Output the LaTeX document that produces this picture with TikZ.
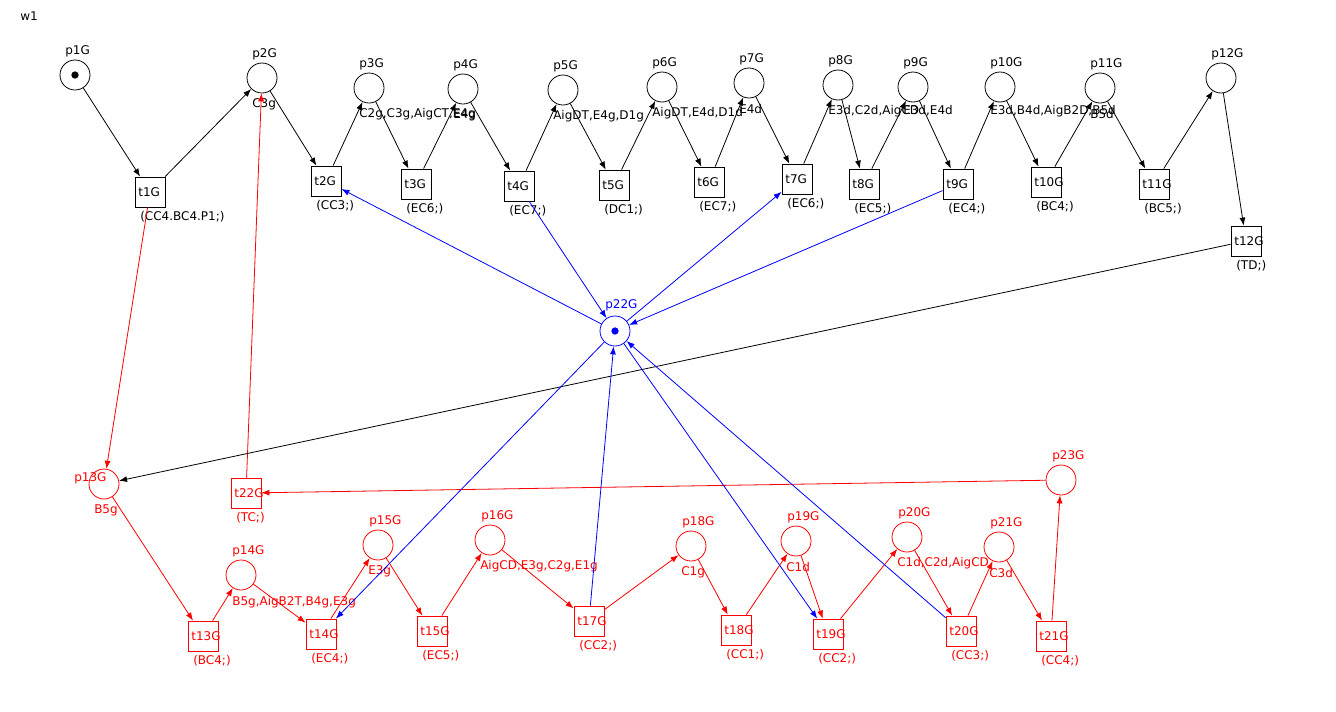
\documentclass[tikz,border=0pt]{standalone}
\usepackage{fontspec}
\setmainfont{DejaVu Sans}
\usetikzlibrary{arrows.meta,calc}
\begin{document}
\begin{tikzpicture}[x=0.75pt,y=-0.75pt,
  every node/.style={font=\fontsize{9}{10}\selectfont},
  place/.style={circle,draw,minimum size=22.5pt,inner sep=0pt,line width=0.6pt},
  trans/.style={rectangle,draw,minimum size=22.5pt,inner sep=0pt,line width=0.6pt},
  tname/.style={anchor=west,inner sep=2.6pt},
  lbl/.style={anchor=west,inner sep=0pt},
  token/.style={circle,fill,inner sep=0pt,minimum size=5.5pt},
  arc/.style={-{Latex[length=6pt,width=4.5pt]},line width=0.6pt}]
\useasboundingbox (0,0) rectangle (1336,711);
\node[lbl] (w1) at (20,16) {w1};
% ---------------- top row (black) ----------------
\node[place] (p1G) at (75,75) {};
\node[token] (p1Gt) at (p1G) {};
\node[place] (p2G) at (262,78) {};
\node[place] (p3G) at (369,88) {};
\node[place] (p4G) at (463,89) {};
\node[place] (p5G) at (563,90) {};
\node[place] (p6G) at (662,87) {};
\node[place] (p7G) at (749,83) {};
\node[place] (p8G) at (838,85) {};
\node[place] (p9G) at (913,87) {};
\node[place] (p10G) at (1000,87) {};
\node[place] (p11G) at (1100,88) {};
\node[place] (p12G) at (1221,78) {};
\foreach \p in {p1G,p2G,p3G,p4G,p5G,p6G,p7G,p8G,p9G,p10G,p11G,p12G}
  \node[lbl] (\p n) at ($(\p)+(-10,-24)$) {\p};
\node[lbl] (p2Gu) at ($(p2G)+(-10,26)$) {C3g};
\node[lbl] (p3Gu) at ($(p3G)+(-10,26)$) {C2g,C3g,AigCT,E4g};
\node[lbl] (p4Gu) at ($(p4G)+(-10,26)$) {E4g};
\node[lbl] (p5Gu) at ($(p5G)+(-10,26)$) {AigDT,E4g,D1g};
\node[lbl] (p6Gu) at ($(p6G)+(-10,26)$) {AigDT,E4d,D1d};
\node[lbl] (p7Gu) at ($(p7G)+(-10,26)$) {E4d};
\node[lbl] (p8Gu) at ($(p8G)+(-10,26)$) {E3d,C2d,AigCD};
\node[lbl] (p9Gu) at ($(p9G)+(-10,24)$) {E3d,E4d};
\node[lbl] (p10Gu) at ($(p10G)+(-10,24)$) {E3d,B4d,AigB2D,B5d};
\node[lbl] (p11Gu) at ($(p11G)+(-10,26)$) {B5d};

\node[trans,label={[tname]west:t1G}] (t1G) at (150,192) {};
\node[trans,label={[tname]west:t2G}] (t2G) at (326,181) {};
\node[trans,label={[tname]west:t3G}] (t3G) at (416,184) {};
\node[trans,label={[tname]west:t4G}] (t4G) at (519,186) {};
\node[trans,label={[tname]west:t5G}] (t5G) at (614,185) {};
\node[trans,label={[tname]west:t6G}] (t6G) at (709,182) {};
\node[trans,label={[tname]west:t7G}] (t7G) at (797,179) {};
\node[trans,label={[tname]west:t8G}] (t8G) at (864,184) {};
\node[trans,label={[tname]west:t9G}] (t9G) at (958,184) {};
\node[trans,label={[tname]west:t10G}] (t10G) at (1046,182) {};
\node[trans,label={[tname]west:t11G}] (t11G) at (1154,184) {};
\node[trans,label={[tname]west:t12G}] (t12G) at (1246,241) {};
\node[lbl] (t1Gl) at ($(t1G)+(-10,25)$) {(CC4.BC4.P1;)};
\node[lbl] (t2Gl) at ($(t2G)+(-10,25)$) {(CC3;)};
\node[lbl] (t3Gl) at ($(t3G)+(-10,25)$) {(EC6;)};
\node[lbl] (t4Gl) at ($(t4G)+(-10,25)$) {(EC7;)};
\node[lbl] (t5Gl) at ($(t5G)+(-10,25)$) {(DC1;)};
\node[lbl] (t6Gl) at ($(t6G)+(-10,25)$) {(EC7;)};
\node[lbl] (t7Gl) at ($(t7G)+(-10,25)$) {(EC6;)};
\node[lbl] (t8Gl) at ($(t8G)+(-10,25)$) {(EC5;)};
\node[lbl] (t9Gl) at ($(t9G)+(-10,25)$) {(EC4;)};
\node[lbl] (t10Gl) at ($(t10G)+(-10,25)$) {(BC4;)};
\node[lbl] (t11Gl) at ($(t11G)+(-10,25)$) {(BC5;)};
\node[lbl] (t12Gl) at ($(t12G)+(-10,25)$) {(TD;)};

\draw[arc] (p1G) -- (t1G);
\draw[arc] (t1G) -- (p2G);
\draw[arc] (p2G) -- (t2G);
\draw[arc] (t2G) -- (p3G);
\draw[arc] (p3G) -- (t3G);
\draw[arc] (t3G) -- (p4G);
\draw[arc] (p4G) -- (t4G);
\draw[arc] (t4G) -- (p5G);
\draw[arc] (p5G) -- (t5G);
\draw[arc] (t5G) -- (p6G);
\draw[arc] (p6G) -- (t6G);
\draw[arc] (t6G) -- (p7G);
\draw[arc] (p7G) -- (t7G);
\draw[arc] (t7G) -- (p8G);
\draw[arc] (p8G) -- (t8G);
\draw[arc] (t8G) -- (p9G);
\draw[arc] (p9G) -- (t9G);
\draw[arc] (t9G) -- (p10G);
\draw[arc] (p10G) -- (t10G);
\draw[arc] (t10G) -- (p11G);
\draw[arc] (p11G) -- (t11G);
\draw[arc] (t11G) -- (p12G);
\draw[arc] (p12G) -- (t12G);

% ---------------- bottom row (red) ----------------
\begin{scope}[red]
\node[place] (p13G) at (104,484) {};
\node[place] (p14G) at (241,575) {};
\node[place] (p15G) at (378,545) {};
\node[place] (p16G) at (490,540) {};
\node[place] (p18G) at (691,546) {};
\node[place] (p19G) at (796,541) {};
\node[place] (p20G) at (907,537) {};
\node[place] (p21G) at (999,547) {};
\node[place] (p23G) at (1061,480) {};
\node[lbl] (p13Gn) at ($(p13G)+(-30,-6)$) {p13G};
\foreach \p in {p14G,p15G,p16G,p18G,p19G,p20G,p21G,p23G}
  \node[lbl] (\p n) at ($(\p)+(-9,-24)$) {\p};
\node[lbl] (p13Gu) at ($(p13G)+(-10,26)$) {B5g};
\node[lbl] (p14Gu) at ($(p14G)+(-9,27)$) {B5g,AigB2T,B4g,E3g};
\node[lbl] (p15Gu) at ($(p15G)+(-10,26)$) {E3g};
\node[lbl] (p16Gu) at ($(p16G)+(-10,26)$) {AigCD,E3g,C2g,E1g};
\node[lbl] (p18Gu) at ($(p18G)+(-10,26)$) {C1g};
\node[lbl] (p19Gu) at ($(p19G)+(-10,26)$) {C1d};
\node[lbl] (p20Gu) at ($(p20G)+(-10,26)$) {C1d,C2d,AigCD};
\node[lbl] (p21Gu) at ($(p21G)+(-10,26)$) {C3d};

\node[trans,label={[tname]west:t13G}] (t13G) at (203,636) {};
\node[trans,label={[tname]west:t14G}] (t14G) at (321,634) {};
\node[trans,label={[tname]west:t15G}] (t15G) at (432,631) {};
\node[trans,label={[tname]west:t17G}] (t17G) at (589,621) {};
\node[trans,label={[tname]west:t18G}] (t18G) at (736,630) {};
\node[trans,label={[tname]west:t19G}] (t19G) at (828,634) {};
\node[trans,label={[tname]west:t20G}] (t20G) at (961,631) {};
\node[trans,label={[tname]west:t21G}] (t21G) at (1051,636) {};
\node[trans,label={[tname]west:t22G}] (t22G) at (246,493) {};
\node[lbl] (t13Gl) at ($(t13G)+(-10,25)$) {(BC4;)};
\node[lbl] (t14Gl) at ($(t14G)+(-10,25)$) {(EC4;)};
\node[lbl] (t15Gl) at ($(t15G)+(-10,25)$) {(EC5;)};
\node[lbl] (t17Gl) at ($(t17G)+(-10,25)$) {(CC2;)};
\node[lbl] (t18Gl) at ($(t18G)+(-10,25)$) {(CC1;)};
\node[lbl] (t19Gl) at ($(t19G)+(-10,25)$) {(CC2;)};
\node[lbl] (t20Gl) at ($(t20G)+(-10,25)$) {(CC3;)};
\node[lbl] (t21Gl) at ($(t21G)+(-10,25)$) {(CC4;)};
\node[lbl] (t22Gl) at ($(t22G)+(-10,25)$) {(TC;)};

\draw[arc] (t1G) -- (p13G);
\draw[arc] (t22G) -- (p2G);
\draw[arc] (p13G) -- (t13G);
\draw[arc] (t13G) -- (p14G);
\draw[arc] (p14G) -- (t14G);
\draw[arc] (t14G) -- (p15G);
\draw[arc] (p15G) -- (t15G);
\draw[arc] (t15G) -- (p16G);
\draw[arc] (p16G) -- (t17G);
\draw[arc] (t17G) -- (p18G);
\draw[arc] (p18G) -- (t18G);
\draw[arc] (t18G) -- (p19G);
\draw[arc] (p19G) -- (t19G);
\draw[arc] (t19G) -- (p20G);
\draw[arc] (p20G) -- (t20G);
\draw[arc] (t20G) -- (p21G);
\draw[arc] (p21G) -- (t21G);
\draw[arc] (t21G) -- (p23G);
\draw[arc] (p23G) -- (t22G);
\end{scope}

\draw[arc] (t12G) -- (p13G);

% ---------------- central place (blue) ----------------
\begin{scope}[blue]
\node[place] (p22G) at (615,331) {};
\node[token] (p22Gt) at (p22G) {};
\node[lbl] (p22Gn) at ($(p22G)+(-10,-26)$) {p22G};
\draw[arc] (p22G) -- (t2G);
\draw[arc] (t4G) -- (p22G);
\draw[arc] (p22G) -- (t7G);
\draw[arc] (t9G) -- (p22G);
\draw[arc] (p22G) -- (t14G);
\draw[arc] (t17G) -- (p22G);
\draw[arc] (p22G) -- (t19G);
\draw[arc] (t20G) -- (p22G);
\end{scope}
\end{tikzpicture}
\end{document}
